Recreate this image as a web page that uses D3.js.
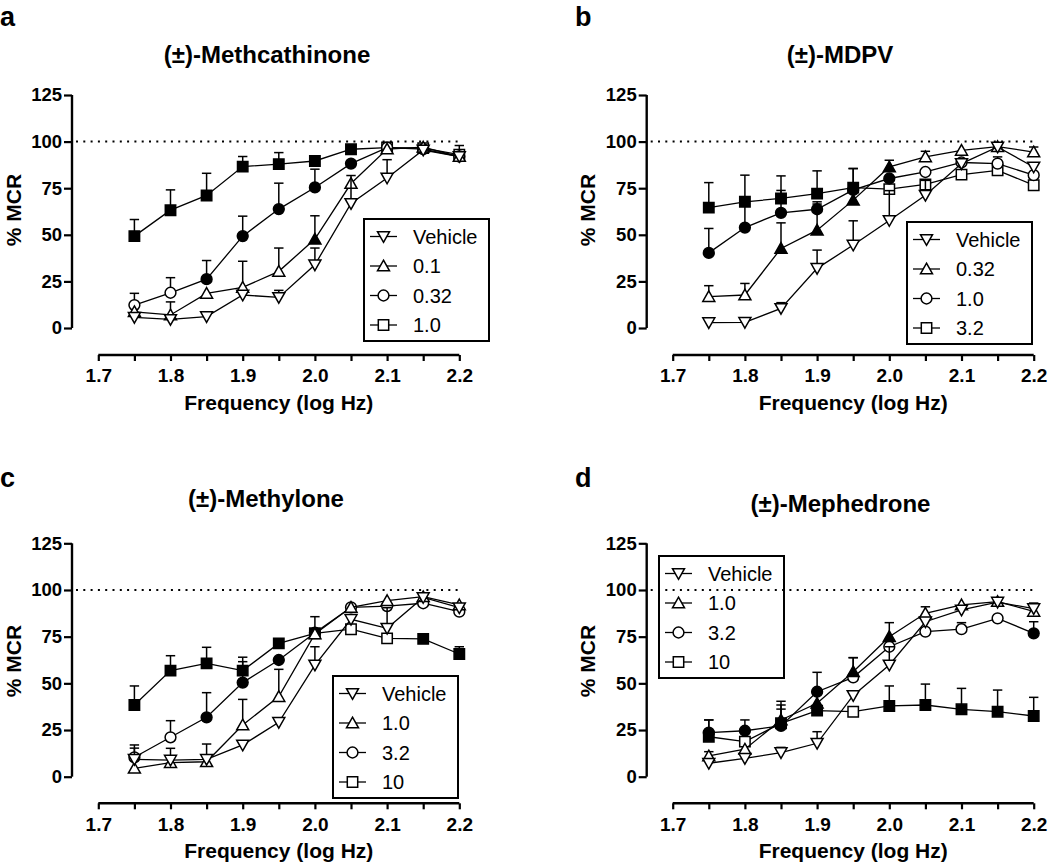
<!DOCTYPE html>
<html><head><meta charset="utf-8">
<script src="https://cdn.jsdelivr.net/npm/d3@7"></script>
<style>body{margin:0;background:#fff;} svg{display:block;}</style>
</head><body>
<svg id="chart" width="1050" height="865"></svg>
<script>
// ---------- data ----------
const freqs = [1.75, 1.8, 1.85, 1.9, 1.95, 2.0, 2.05, 2.1, 2.15, 2.2];
const xTickValues = [1.7, 1.75, 1.8, 1.85, 1.9, 1.95, 2.0, 2.05, 2.1, 2.15, 2.2];
const xTickLabels = ["1.7", "", "1.8", "", "1.9", "", "2.0", "", "2.1", "", "2.2"];
const yTickValues = [0, 25, 50, 75, 100, 125];
const referenceLine = 100;
const seriesShapes = ["down", "up", "circle", "square"];

// (a) Methcathinone
const methcathinoneLabels = ["Vehicle", "0.1", "0.32", "1.0"];
const methcathinoneMeans = [
  [5.7, 4.6, 6.1, 17.7, 16.4, 33.9, 66.8, 80.5, 95.5, 92],
  [8.7, 7.0, 18.6, 21.8, 30.4, 47.7, 77.5, 96.0, 97.0, 92],
  [12.3, 18.9, 26.2, 49.3, 63.8, 75.4, 88.2, 96.8, 96.0, 92],
  [49.3, 63.2, 71.1, 86.6, 87.9, 89.6, 95.9, 96.8, 96.5, 93]
];
const methcathinoneSEM = [
  [0, 0, 1.5, 0, 3.8, 9, 15, 9.8, 0, 0],
  [0, 7, 0, 14, 12.5, 12.5, 0, 0, 0, 0],
  [6.3, 8.1, 10, 10.7, 13.9, 9.8, 0, 0, 0, 0],
  [8.9, 10.9, 11.9, 5.4, 6.2, 0, 0, 0, 0, 4.9]
];
const methcathinoneFilled = [
  [0,0,0,0,0,0,0,0,0,0],
  [0,0,0,0,0,1,0,0,0,0],
  [0,0,1,1,1,1,1,0,0,0],
  [1,1,1,1,1,1,1,0,0,0]
];

// (b) MDPV
const mdpvLabels = ["Vehicle", "0.32", "1.0", "3.2"];
const mdpvMeans = [
  [2.9, 3.0, 10.5, 32.0, 44.5, 57.7, 71.2, 88.2, 97.1, 86.4],
  [16.8, 17.7, 42.7, 52.5, 68.6, 86.4, 91.8, 95.3, 97.3, 94.4],
  [40.3, 53.9, 61.8, 63.7, 74.1, 80.2, 83.7, 88.8, 88.2, 82.0],
  [64.6, 67.7, 69.5, 72.1, 75.3, 74.5, 77.0, 82.3, 84.6, 76.6]
];
const mdpvSEM = [
  [0, 0, 3.1, 9.8, 13, 16, 8, 0, 0, 0],
  [5.9, 6.2, 13.7, 14, 17, 3.6, 3, 0, 0, 2.7],
  [13.1, 14, 12, 4, 0, 0, 0, 0, 3.6, 0],
  [13.4, 14.3, 12.1, 12.2, 10.2, 0, 0, 0, 0, 0]
];
const mdpvFilled = [
  [0,0,0,0,0,0,0,0,0,0],
  [0,0,1,1,1,1,0,0,0,0],
  [1,1,1,1,1,1,0,0,0,0],
  [1,1,1,1,1,0,0,0,0,0]
];

// (c) Methylone
const methyloneLabels = ["Vehicle", "1.0", "3.2", "10"];
const methyloneMeans = [
  [9.3, 8.9, 9.3, 17.0, 29.1, 59.8, 84.3, 79.5, 96.0, 90.5],
  [4.5, 7.5, 8.0, 27.7, 42.9, 76.5, 90.7, 94.3, 96.4, 92.0],
  [10.4, 21.1, 31.8, 50.4, 62.5, 77.1, 90.7, 91.4, 92.9, 88.4],
  [38.4, 56.8, 60.7, 56.8, 71.4, 76.8, 79.0, 74.1, 73.8, 65.7]
];
const methyloneSEM = [
  [6, 0, 0, 0, 0, 9.8, 0, 11, 0, 0],
  [0, 7.7, 9.5, 13.7, 14.6, 0, 0, 0, 0, 0],
  [6.6, 8.9, 13.2, 11.2, 0, 8.6, 0, 0, 0, 0],
  [10.2, 8, 8.6, 7.2, 0, 0, 0, 0, 0, 3.9]
];
const methyloneFilled = [
  [0,0,0,0,0,0,0,0,0,0],
  [0,0,0,0,0,0,0,0,0,0],
  [0,0,1,1,1,1,0,0,0,0],
  [1,1,1,1,1,1,0,0,1,1]
];

// (d) Mephedrone
const mephedroneLabels = ["Vehicle", "1.0", "3.2", "10"];
const mephedroneMeans = [
  [7.2, 9.8, 12.9, 17.9, 43.5, 59.8, 83.0, 89.3, 93.5, 90.0],
  [11.1, 14.7, 30.4, 39.3, 56.2, 75.0, 87.5, 92.0, 93.8, 88.5],
  [23.6, 24.6, 27.2, 45.5, 53.2, 69.6, 77.7, 79.0, 84.8, 76.8],
  [21.4, 18.8, 28.6, 35.4, 34.8, 37.9, 38.4, 36.1, 34.8, 32.5]
];
const mephedroneSEM = [
  [1.5, 0, 2.8, 6.2, 0, 9.8, 0, 2, 0, 3],
  [2.3, 0, 10, 0, 7.5, 7.5, 3.5, 0, 0, 4],
  [6.8, 5.8, 9, 10.4, 10.6, 0, 0, 3.5, 0, 6.2],
  [9, 0, 9.8, 0, 0, 10.7, 11.2, 11.2, 11.6, 10]
];
const mephedroneFilled = [
  [0,0,0,0,0,0,0,0,0,0],
  [0,0,1,1,1,1,0,0,0,0],
  [1,1,1,1,0,0,0,0,0,1],
  [1,0,1,1,0,1,1,1,1,1]
];

// ---------- layout ----------
const panels = [
  {letter: "a", title: "(\u00B1)-Methcathinone", labels: methcathinoneLabels, means: methcathinoneMeans, sem: methcathinoneSEM, filled: methcathinoneFilled,
   x0: 98.3, x1: 459.3, yAxisX: 72, yTop: 95, yBot: 328, xAxisY: 355,
   titleX: 267, titleY: 63, letterX: 0, letterY: 26, yTitleX: 13, yTitleY: 210, legX: 364, legY: 219},
  {letter: "b", title: "(\u00B1)-MDPV", labels: mdpvLabels, means: mdpvMeans, sem: mdpvSEM, filled: mdpvFilled,
   x0: 672.7, x1: 1033.7, yAxisX: 646.7, yTop: 95, yBot: 328, xAxisY: 355,
   titleX: 840, titleY: 63, letterX: 575, letterY: 26, yTitleX: 587, yTitleY: 210, legX: 907, legY: 222},
  {letter: "c", title: "(\u00B1)-Methylone", labels: methyloneLabels, means: methyloneMeans, sem: methyloneSEM, filled: methyloneFilled,
   x0: 98.3, x1: 459.3, yAxisX: 72, yTop: 543.3, yBot: 776.7, xAxisY: 803.3,
   titleX: 266, titleY: 506.5, letterX: 0, letterY: 487, yTitleX: 13, yTitleY: 661, legX: 333, legY: 676},
  {letter: "d", title: "(\u00B1)-Mephedrone", labels: mephedroneLabels, means: mephedroneMeans, sem: mephedroneSEM, filled: mephedroneFilled,
   x0: 672.7, x1: 1033.7, yAxisX: 646.7, yTop: 543.3, yBot: 776.7, xAxisY: 803.3,
   titleX: 840.5, titleY: 512, letterX: 575, letterY: 487, yTitleX: 587, yTitleY: 661, legX: 659, legY: 556}
];

const FONT = "'Liberation Sans', Arial, Helvetica, sans-serif";
const svg = d3.select("#chart");

function drawMarker(g, shape, cx, cy, filled) {
  const fill = filled ? "#000" : "#fff";
  if (shape === "circle") {
    g.append("circle").attr("cx", cx).attr("cy", cy).attr("r", 5.4)
      .attr("fill", fill).attr("stroke", "#000").attr("stroke-width", 1.5);
    return;
  }
  let p;
  if (shape === "square") p = `M${cx-5.2},${cy-5.2}h10.4v10.4h-10.4Z`;
  else if (shape === "up") p = `M${cx},${cy-5.8}L${cx+6},${cy+4.8}L${cx-6},${cy+4.8}Z`;
  else p = `M${cx},${cy+5.8}L${cx+6},${cy-4.8}L${cx-6},${cy-4.8}Z`;
  g.append("path").attr("d", p).attr("fill", fill).attr("stroke", "#000")
    .attr("stroke-width", 1.5).attr("stroke-linejoin", "miter");
}

panels.forEach(P => {
  const x = d3.scaleLinear().domain([1.7, 2.2]).range([P.x0, P.x1]);
  const y = d3.scaleLinear().domain([0, 125]).range([P.yBot, P.yTop]);
  const g = svg.append("g");

  // letter & title
  g.append("text").attr("x", P.letterX).attr("y", P.letterY).text(P.letter)
    .attr("font-family", FONT).attr("font-weight", "bold").attr("font-size", 27);
  g.append("text").attr("x", P.titleX).attr("y", P.titleY).text(P.title)
    .attr("text-anchor", "middle").attr("font-family", FONT).attr("font-weight", "bold").attr("font-size", 24);

  // y axis
  const yAx = g.append("g").attr("transform", `translate(${P.yAxisX},0)`)
    .call(d3.axisLeft(y).tickValues(yTickValues).tickSize(8).tickPadding(2).tickSizeOuter(0));
  yAx.select(".domain").attr("stroke-width", 2.4).attr("d", `M0,${P.yTop}V${P.yBot}`);
  yAx.selectAll(".tick line").attr("stroke-width", 2.2);
  yAx.selectAll(".tick text").attr("font-family", FONT).attr("font-weight", "bold").attr("font-size", 18.5).attr("fill", "#000");

  // x axis
  const xAx = g.append("g").attr("transform", `translate(0,${P.xAxisY})`)
    .call(d3.axisBottom(x).tickValues(xTickValues).tickSize(6).tickPadding(8).tickSizeOuter(0)
      .tickFormat((d, i) => xTickLabels[i]));
  xAx.select(".domain").attr("stroke-width", 2.4).attr("d", `M${P.x0},0H${P.x1}`);
  xAx.selectAll(".tick line").attr("stroke-width", 2.2);
  xAx.selectAll(".tick text").attr("font-family", FONT).attr("font-weight", "bold").attr("font-size", 19).attr("fill", "#000");

  // axis titles
  g.append("text").attr("x", (P.x0 + P.x1) / 2).attr("y", P.xAxisY + 54.5).text("Frequency (log Hz)")
    .attr("text-anchor", "middle").attr("font-family", FONT).attr("font-weight", "bold").attr("font-size", 21);
  g.append("text").attr("transform", `translate(${P.yTitleX + 7.5},${P.yTitleY}) rotate(-90)`).text("% MCR")
    .attr("text-anchor", "middle").attr("font-family", FONT).attr("font-weight", "bold").attr("font-size", 21);

  // reference dotted line
  g.append("line").attr("x1", P.yAxisX + 4).attr("x2", x(2.2)).attr("y1", y(referenceLine)).attr("y2", y(referenceLine))
    .attr("stroke", "#000").attr("stroke-width", 2).attr("stroke-dasharray", "2,5.3");

  // series (drawn last dose first so vehicle is on top)
  const line = d3.line().x((d, i) => x(freqs[i])).y(d => y(d));
  for (let s = 3; s >= 0; s--) {
    const sg = g.append("g");
    sg.append("path").attr("d", line(P.means[s])).attr("fill", "none")
      .attr("stroke", "#000").attr("stroke-width", 1.3);
    P.means[s].forEach((m, i) => {
      const e = P.sem[s][i];
      if (e > 0) {
        const cx = x(freqs[i]);
        sg.append("line").attr("x1", cx).attr("x2", cx).attr("y1", y(m)).attr("y2", y(m + e))
          .attr("stroke", "#000").attr("stroke-width", 1.5);
        sg.append("line").attr("x1", cx - 4.7).attr("x2", cx + 4.7).attr("y1", y(m + e)).attr("y2", y(m + e))
          .attr("stroke", "#000").attr("stroke-width", 1.5);
      }
    });
    P.means[s].forEach((m, i) => drawMarker(sg, seriesShapes[s], x(freqs[i]), y(m), P.filled[s][i]));
  }

  // legend
  const lg = g.append("g").attr("transform", `translate(${P.legX},${P.legY})`);
  lg.append("rect").attr("x", 0).attr("y", 0).attr("width", 125).attr("height", 122)
    .attr("fill", "none").attr("stroke", "#000").attr("stroke-width", 2);
  P.labels.forEach((lab, k) => {
    const cy = 17.5 + k * 29.5;
    lg.append("line").attr("x1", 6).attr("x2", 33).attr("y1", cy).attr("y2", cy)
      .attr("stroke", "#000").attr("stroke-width", 1.3);
    drawMarker(lg, seriesShapes[k], 19.5, cy, false);
    lg.append("text").attr("x", 49).attr("y", cy + 7).text(lab)
      .attr("font-family", FONT).attr("font-size", 20).attr("fill", "#000");
  });
});
</script>
</body></html>
